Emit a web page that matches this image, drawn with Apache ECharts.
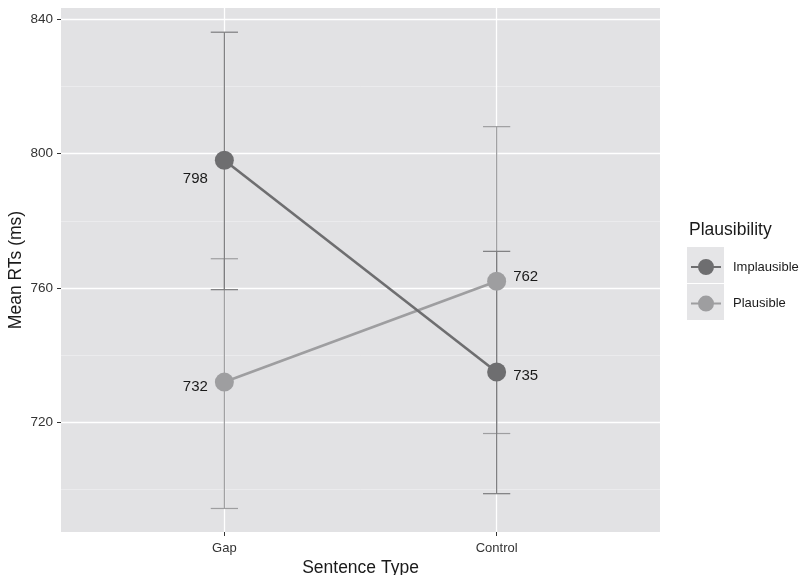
<!DOCTYPE html>
<html>
<head>
<meta charset="utf-8">
<script src="https://cdn.jsdelivr.net/npm/echarts@6/dist/echarts.min.js"></script>
<style>
  html, body { margin: 0; padding: 0; background: #fff; }
  #chart { width: 803px; height: 575px; }
</style>
</head>
<body>
<div id="chart"></div>
<script>
// data
const categories = ['Gap', 'Control']
const groups = ['Implausible', 'Plausible']
const implausibleMean = [798, 735]
const plausibleMean = [732, 762]
const implausibleLow = [759.5, 698.8]
const implausibleHigh = [836.1, 770.9]
const plausibleLow = [694.4, 716.7]
const plausibleHigh = [768.7, 808]
const yTicks = [720, 760, 800, 840]
const yMinorTicks = [700, 740, 780, 820]

const darkGrey = '#6e6e70'
const lightGrey = '#9e9ea0'
const panelBg = '#e2e2e4'
const font = 'Liberation Sans, Arial, sans-serif'

// label placement per point (Gap on the left, Control on the right)
const labelPos = ['left', 'right']
const implausibleOffset = [[0, 19], [0, 4]]
const plausibleOffset = [[0, 5], [0, -4]]

function pointData (means, offsets) {
  return means.map((v, i) => ({
    value: [i + 1, v],
    label: { position: labelPos[i], offset: offsets[i] }
  }))
}

function barData (low, high) {
  return low.map((l, i) => [i + 1, l, high[i]])
}

function errorBar (name, data, color) {
  return {
    name: name,
    type: 'custom',
    z: 1,
    silent: true,
    data: data,
    encode: { x: 0, y: [1, 2] },
    itemStyle: { color: color },
    renderItem (params, api) {
      const x = api.value(0)
      const lo = api.coord([x, api.value(1)])
      const hi = api.coord([x, api.value(2)])
      const half = api.size([0.05, 0])[0]
      const style = { stroke: color, lineWidth: 1.2, fill: null }
      return {
        type: 'group',
        children: [
          { type: 'line', shape: { x1: lo[0], y1: lo[1], x2: hi[0], y2: hi[1] }, style },
          { type: 'line', shape: { x1: lo[0] - half, y1: lo[1], x2: lo[0] + half, y2: lo[1] }, style },
          { type: 'line', shape: { x1: hi[0] - half, y1: hi[1], x2: hi[0] + half, y2: hi[1] }, style }
        ]
      }
    }
  }
}

function meanLine (name, data, color) {
  return {
    name: name,
    type: 'line',
    z: 3,
    data: data,
    symbol: 'circle',
    symbolSize: 19,
    lineStyle: { color: color, width: 2.6 },
    itemStyle: { color: color },
    label: {
      show: true,
      distance: 7,
      color: '#1a1a1a',
      fontSize: 15,
      fontFamily: font,
      formatter: p => p.value[1]
    }
  }
}

const chart = echarts.init(document.getElementById('chart'))

// legend key: short line through a dot
const legendIcon = 'path://M0,7H30V9H0Z M7,8a8,8 0 1,1 16,0a8,8 0 1,1 -16,0Z'

chart.setOption({
  animation: false,
  backgroundColor: '#fff',
  textStyle: { fontFamily: font },
  grid: {
    left: 61,
    right: 143,
    top: 8,
    bottom: 43,
    outerBoundsMode: 'none',
    show: true,
    backgroundColor: panelBg,
    borderWidth: 0
  },
  graphic: [
    { type: 'rect', left: 687, top: 247, shape: { width: 37, height: 36 }, style: { fill: '#e5e5e7' } },
    { type: 'rect', left: 687, top: 284, shape: { width: 37, height: 36 }, style: { fill: '#e5e5e7' } }
  ],
  title: {
    text: 'Plausibility',
    left: 689,
    top: 221,
    padding: 0,
    textStyle: { fontSize: 17.5, fontWeight: 'normal', color: '#1a1a1a' }
  },
  legend: {
    orient: 'vertical',
    left: 691,
    top: 259,
    data: groups,
    icon: legendIcon,
    itemWidth: 30,
    itemHeight: 16,
    itemGap: 20.6,
    selectedMode: false,
    padding: 0,
    textStyle: { fontSize: 13, color: '#1a1a1a', padding: [0, 0, 0, 7] }
  },
  xAxis: {
    type: 'value',
    min: 0.4,
    max: 2.6,
    name: 'Sentence Type',
    nameLocation: 'middle',
    nameGap: 27,
    nameMoveOverlap: false,
    nameTextStyle: { fontSize: 17.5, color: '#1a1a1a' },
    axisLine: { show: false },
    axisTick: { show: true, length: 4, customValues: [1, 2], lineStyle: { color: '#333' } },
    axisLabel: {
      customValues: [1, 2],
      margin: 10,
      fontSize: 13,
      color: '#333',
      formatter: v => categories[Math.round(v) - 1]
    },
    splitLine: { show: true, lineStyle: { color: '#fff', width: 1.3 } }
  },
  yAxis: [{
    type: 'value',
    min: 687.4,
    max: 843.3,
    name: 'Mean RTs (ms)',
    nameLocation: 'middle',
    nameGap: 36,
    nameMoveOverlap: false,
    nameTextStyle: { fontSize: 17.5, color: '#1a1a1a' },
    axisLine: { show: false },
    axisTick: { show: true, length: 4, customValues: yTicks, lineStyle: { color: '#333' } },
    axisLabel: { customValues: yTicks, margin: 8, fontSize: 13.5, color: '#333' },
    splitLine: { show: true, lineStyle: { color: '#fff', width: 1.3 } }
  }, {
    type: 'value',
    position: 'left',
    min: 687.4,
    max: 843.3,
    axisLine: { show: false },
    axisTick: { show: false, customValues: yMinorTicks },
    axisLabel: { show: false, customValues: yMinorTicks },
    splitLine: { show: true, lineStyle: { color: '#f2f2f3', width: 0.6 } }
  }],
  series: [
    errorBar('Plausible CI', barData(plausibleLow, plausibleHigh), lightGrey),
    errorBar('Implausible CI', barData(implausibleLow, implausibleHigh), '#7c7c7e'),
    meanLine('Plausible', pointData(plausibleMean, plausibleOffset), lightGrey),
    meanLine('Implausible', pointData(implausibleMean, implausibleOffset), darkGrey)
  ]
})
</script>
</body>
</html>
